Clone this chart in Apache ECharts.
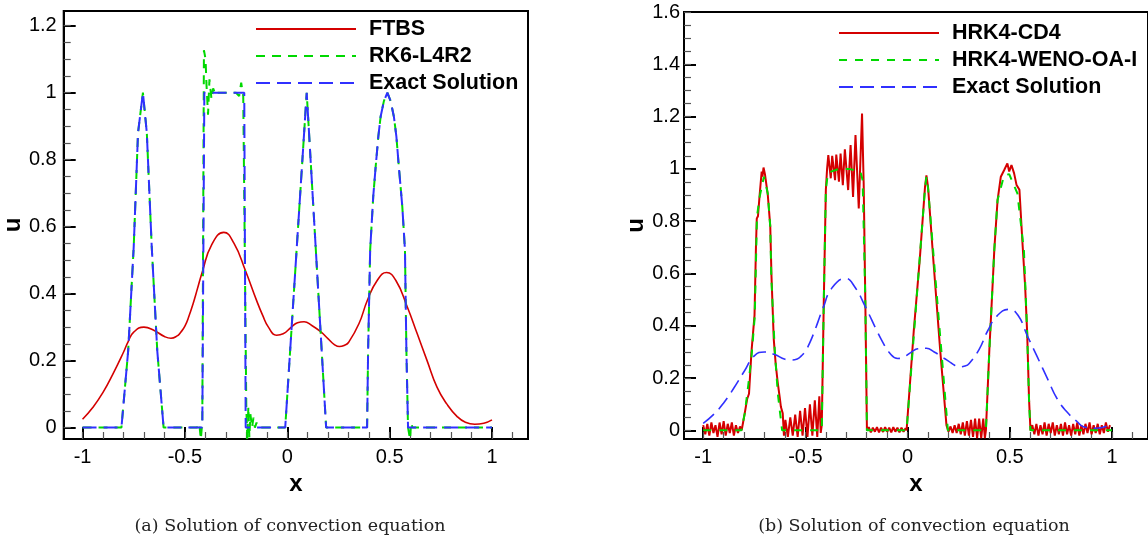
<!DOCTYPE html>
<html>
<head>
<meta charset="utf-8">
<script src="https://cdn.jsdelivr.net/npm/echarts@6/dist/echarts.min.js"></script>
<style>
  html, body { margin: 0; padding: 0; background: #fff; }
  #chart { width: 1148px; height: 538px; }
</style>
</head>
<body>
<div id="chart"></div>
<script>
// tick values
const xTicks = [-1, -0.5, 0, 0.5, 1]
const xMinorTicks = [-1, -0.9, -0.8, -0.7, -0.6, -0.5, -0.4, -0.3, -0.2, -0.1, 0, 0.1, 0.2, 0.3, 0.4, 0.5, 0.6, 0.7, 0.8, 0.9, 1, 1.1]
const yTicksA = [0, 0.2, 0.4, 0.6, 0.8, 1, 1.2]
const yMinorA = [0, 0.05, 0.1, 0.15, 0.2, 0.25, 0.3, 0.35, 0.4, 0.45, 0.5, 0.55, 0.6, 0.65, 0.7, 0.75, 0.8, 0.85, 0.9, 0.95, 1, 1.05, 1.1, 1.15, 1.2]
const yTicksB = [0, 0.2, 0.4, 0.6, 0.8, 1, 1.2, 1.4, 1.6]
const yMinorB = [0, 0.05, 0.1, 0.15, 0.2, 0.25, 0.3, 0.35, 0.4, 0.45, 0.5, 0.55, 0.6, 0.65, 0.7, 0.75, 0.8, 0.85, 0.9, 0.95, 1, 1.05, 1.1, 1.15, 1.2, 1.25, 1.3, 1.35, 1.4, 1.45, 1.5, 1.55, 1.6]

// (a) FTBS
const ftbs = [
  [-1.0, 0.025], [-0.95, 0.06], [-0.9, 0.105], [-0.85, 0.162], [-0.8, 0.225], [-0.777, 0.257],
  [-0.75, 0.285], [-0.7, 0.3], [-0.65, 0.29], [-0.6, 0.272], [-0.568, 0.267], [-0.54, 0.273],
  [-0.52, 0.285], [-0.5, 0.303], [-0.48, 0.333], [-0.46, 0.37], [-0.44, 0.412], [-0.415, 0.465],
  [-0.37, 0.545], [-0.31, 0.583], [-0.26, 0.55], [-0.205, 0.47], [-0.15, 0.38], [-0.12, 0.335],
  [-0.092, 0.3], [-0.052, 0.276], [-0.02, 0.28], [0.02, 0.3], [0.05, 0.313], [0.082, 0.316],
  [0.12, 0.305], [0.166, 0.285], [0.2, 0.265], [0.23, 0.248], [0.255, 0.242], [0.28, 0.246],
  [0.3, 0.255], [0.35, 0.31], [0.392, 0.381], [0.44, 0.44], [0.485, 0.463], [0.53, 0.44],
  [0.586, 0.361], [0.635, 0.28], [0.683, 0.2], [0.732, 0.12], [0.78, 0.07], [0.83, 0.033],
  [0.87, 0.016], [0.916, 0.01], [0.96, 0.013], [1.0, 0.023]
]

// (a) RK6-L4R2
const rk6 = [
  [-1, 0], [-0.81, 0], [-0.777, 0.23], [-0.75, 0.54], [-0.729, 0.88], [-0.705, 1.0], [-0.686, 0.88],
  [-0.662, 0.54], [-0.635, 0.23], [-0.604, 0], [-0.44, 0], [-0.43, 0.013], [-0.422, -0.035],
  [-0.415, 0.02], [-0.407, 1.127], [-0.399, 1.1], [-0.395, 1.03], [-0.387, 0.934], [-0.38, 1.04],
  [-0.37, 0.98], [-0.362, 1.013], [-0.35, 0.993], [-0.34, 1.0], [-0.25, 1.0], [-0.235, 0.99],
  [-0.225, 1.03], [-0.215, 0.99], [-0.207, 0.5], [-0.2, 0.06], [-0.195, -0.035], [-0.19, 0.063],
  [-0.185, -0.03], [-0.18, 0.04], [-0.172, 0.0], [-0.165, 0.03], [-0.158, 0.0], [-0.15, 0.015],
  [-0.14, 0], [-0.01, 0], [0.095, 1.0], [0.19, 0], [0.39, 0], [0.395, 0.23], [0.405, 0.53],
  [0.42, 0.69], [0.432, 0.78], [0.445, 0.87], [0.456, 0.928], [0.472, 0.975], [0.489, 1.0],
  [0.505, 0.975], [0.521, 0.928], [0.533, 0.87], [0.545, 0.78], [0.562, 0.66], [0.575, 0.53],
  [0.582, 0.23], [0.59, 0], [0.6, -0.035], [0.605, 0.015], [0.612, 0], [1, 0]
]

// (a) exact solution
const exactA = [
  [-1, 0], [-0.81, 0], [-0.777, 0.23], [-0.75, 0.54], [-0.729, 0.88], [-0.705, 1.0], [-0.686, 0.88],
  [-0.662, 0.54], [-0.635, 0.23], [-0.604, 0], [-0.415, 0], [-0.405, 1.0], [-0.21, 1.0], [-0.203, 0],
  [-0.01, 0], [0.095, 1.0], [0.19, 0], [0.39, 0], [0.395, 0.23], [0.405, 0.53], [0.42, 0.69],
  [0.432, 0.78], [0.445, 0.87], [0.456, 0.928], [0.472, 0.975], [0.489, 1.0], [0.505, 0.975],
  [0.521, 0.928], [0.533, 0.87], [0.545, 0.78], [0.562, 0.66], [0.575, 0.53], [0.582, 0.23],
  [0.59, 0], [1, 0]
]

// (b) HRK4-CD4
const cd4 = [
  [-1, 0.02], [-0.99, -0.015], [-0.98, 0.025], [-0.97, -0.02], [-0.96, 0.03], [-0.95, -0.01],
  [-0.94, 0.02], [-0.93, -0.025], [-0.92, 0.03], [-0.91, -0.015], [-0.9, 0.035], [-0.89, -0.02],
  [-0.88, 0.025], [-0.87, -0.01], [-0.86, 0.03], [-0.85, -0.02], [-0.84, 0.02], [-0.83, -0.01],
  [-0.82, 0.015], [-0.812, 0.0], [-0.805, 0.03], [-0.797, 0.065], [-0.785, 0.12], [-0.776, 0.14],
  [-0.764, 0.3], [-0.749, 0.44], [-0.742, 0.7], [-0.738, 0.81], [-0.732, 0.82], [-0.724, 0.9],
  [-0.714, 0.99], [-0.71, 0.97], [-0.705, 1.005], [-0.698, 0.98], [-0.684, 0.9], [-0.672, 0.78],
  [-0.666, 0.59], [-0.655, 0.35], [-0.645, 0.25], [-0.635, 0.18], [-0.626, 0.128], [-0.62, 0.09],
  [-0.611, 0.065], [-0.605, -0.02], [-0.598, 0.04], [-0.586, -0.025], [-0.574, 0.05], [-0.562, -0.02],
  [-0.55, 0.06], [-0.538, -0.025], [-0.526, 0.075], [-0.514, -0.02], [-0.502, 0.085], [-0.49, -0.025],
  [-0.478, 0.1], [-0.466, -0.02], [-0.454, 0.115], [-0.442, -0.025], [-0.432, 0.13], [-0.425, -0.01],
  [-0.42, 0.02], [-0.41, 0.5], [-0.4, 0.92], [-0.394, 1.0], [-0.388, 1.053], [-0.376, 0.964],
  [-0.369, 1.05], [-0.355, 0.957], [-0.349, 1.055], [-0.336, 0.951], [-0.328, 1.059], [-0.317, 0.938],
  [-0.307, 1.075], [-0.291, 0.919], [-0.279, 1.091], [-0.267, 0.893], [-0.255, 1.129], [-0.239, 0.849],
  [-0.223, 1.212], [-0.215, 0.945], [-0.207, 0.5], [-0.199, 0.0], [-0.19, 0.012], [-0.18, -0.008],
  [-0.17, 0.01], [-0.16, -0.005], [-0.15, 0.012], [-0.14, -0.008], [-0.13, 0.01], [-0.12, -0.006],
  [-0.11, 0.012], [-0.1, -0.005], [-0.09, 0.01], [-0.08, -0.008], [-0.07, 0.012], [-0.06, -0.005],
  [-0.05, 0.01], [-0.04, -0.008], [-0.03, 0.01], [-0.02, -0.005], [-0.01, 0.008], [-0.005, 0.0],
  [0.03, 0.38], [0.06, 0.66], [0.085, 0.93], [0.092, 0.975], [0.1, 0.93], [0.125, 0.66], [0.16, 0.3],
  [0.19, 0.02], [0.2, -0.005], [0.21, 0.015], [0.22, -0.01], [0.23, 0.02], [0.24, -0.01], [0.25, 0.025],
  [0.26, -0.015], [0.27, 0.03], [0.28, -0.02], [0.29, 0.035], [0.3, -0.02], [0.31, 0.04], [0.32, -0.025],
  [0.33, 0.045], [0.34, -0.03], [0.35, 0.045], [0.36, -0.03], [0.37, 0.045], [0.378, -0.03],
  [0.383, 0.0], [0.4, 0.31], [0.416, 0.56], [0.424, 0.69], [0.44, 0.88], [0.456, 0.97], [0.472, 0.995],
  [0.488, 1.021], [0.497, 0.99], [0.508, 1.015], [0.521, 0.983], [0.533, 0.938], [0.547, 0.92],
  [0.561, 0.728], [0.575, 0.55], [0.585, 0.37], [0.594, 0.12], [0.601, 0.0], [0.61, 0.02],
  [0.62, -0.015], [0.63, 0.025], [0.64, -0.02], [0.65, 0.02], [0.66, -0.015], [0.67, 0.03],
  [0.68, -0.02], [0.69, 0.025], [0.7, -0.01], [0.71, 0.03], [0.72, -0.02], [0.73, 0.02],
  [0.74, -0.015], [0.75, 0.025], [0.76, -0.02], [0.77, 0.03], [0.78, -0.015], [0.79, 0.02],
  [0.8, -0.02], [0.81, 0.025], [0.82, -0.015], [0.83, 0.03], [0.84, -0.02], [0.85, 0.02],
  [0.86, -0.015], [0.87, 0.025], [0.88, -0.01], [0.89, 0.03], [0.9, -0.015], [0.91, 0.02],
  [0.92, -0.01], [0.93, 0.025], [0.94, -0.015], [0.95, 0.02], [0.96, -0.01], [0.97, 0.03],
  [0.98, -0.005], [0.99, 0.02]
]

// (b) HRK4-WENO-OA-I
const weno = [
  [-1, 0], [-0.813, 0], [-0.797, 0.064], [-0.78, 0.17], [-0.764, 0.28], [-0.748, 0.434],
  [-0.737, 0.817], [-0.724, 0.893], [-0.703, 0.97], [-0.684, 0.906], [-0.672, 0.779], [-0.667, 0.587],
  [-0.65, 0.307], [-0.635, 0.141], [-0.614, 0], [-0.42, 0], [-0.41, 0.5], [-0.4, 0.92],
  [-0.39, 0.985], [-0.336, 1.0], [-0.288, 1.0], [-0.231, 0.99], [-0.22, 0.957], [-0.207, 0.5],
  [-0.199, 0], [-0.005, 0], [0.085, 0.925], [0.092, 0.97], [0.1, 0.925], [0.197, 0], [0.383, 0],
  [0.4, 0.307], [0.416, 0.562], [0.424, 0.69], [0.44, 0.881], [0.472, 0.975], [0.497, 0.98],
  [0.537, 0.906], [0.569, 0.689], [0.585, 0.371], [0.594, 0.116], [0.601, 0], [1, 0]
]

// (b) exact solution
const exactB = [
  [-1.0, 0.027], [-0.95, 0.06], [-0.9, 0.105], [-0.85, 0.162], [-0.8, 0.225], [-0.75, 0.285],
  [-0.7, 0.3], [-0.65, 0.29], [-0.6, 0.272], [-0.57, 0.269], [-0.54, 0.273], [-0.52, 0.285],
  [-0.5, 0.303], [-0.48, 0.333], [-0.46, 0.37], [-0.44, 0.412], [-0.415, 0.465], [-0.37, 0.545],
  [-0.304, 0.581], [-0.26, 0.55], [-0.205, 0.47], [-0.15, 0.38], [-0.12, 0.335], [-0.092, 0.3],
  [-0.048, 0.275], [-0.02, 0.28], [0.02, 0.3], [0.05, 0.312], [0.092, 0.314], [0.13, 0.3],
  [0.17, 0.28], [0.2, 0.265], [0.23, 0.249], [0.254, 0.243], [0.28, 0.246], [0.3, 0.255],
  [0.35, 0.31], [0.392, 0.381], [0.44, 0.44], [0.497, 0.463], [0.54, 0.44], [0.586, 0.361],
  [0.635, 0.28], [0.683, 0.2], [0.732, 0.12], [0.78, 0.07], [0.83, 0.033], [0.86, 0.014],
  [0.92, 0.008], [0.973, 0.016]
]

const FONT = 'Liberation Sans, Arial, sans-serif'
const RED = '#d40000'
const GREEN = '#00d800'
const BLUE = '#3030ff'

const majorAxis = (gridIndex, min, max, ticks, extra) => Object.assign({
  type: 'value',
  gridIndex,
  min,
  max,
  splitLine: { show: false },
  axisLine: { show: true, onZero: false, lineStyle: { color: '#000', width: 2 } },
  axisTick: { show: true, inside: true, length: 12, customValues: ticks, lineStyle: { color: '#000', width: 2 } },
  axisLabel: { show: true, customValues: ticks, color: '#000', fontSize: 20, fontFamily: FONT },
  nameLocation: 'middle',
  nameTextStyle: { color: '#000', fontSize: 24, fontWeight: 'bold', fontFamily: FONT }
}, extra)

const minorAxis = (gridIndex, min, max, ticks, extra) => Object.assign({
  type: 'value',
  gridIndex,
  min,
  max,
  splitLine: { show: false },
  axisLine: { show: false, onZero: false },
  axisTick: { show: true, inside: true, length: 7, customValues: ticks, lineStyle: { color: '#555', width: 1.2 } },
  axisLabel: { show: false }
}, extra)

const legendText = { color: '#000', fontSize: 21.5, fontWeight: 'bold', fontFamily: FONT, padding: [0, 0, 0, 8] }

const chart = echarts.init(document.getElementById('chart'))

chart.setOption({
  animation: false,
  backgroundColor: '#fff',
  grid: [
    { left: 60, top: 11, width: 468, height: 428, show: true, borderColor: '#000', borderWidth: 2, backgroundColor: 'transparent' },
    { left: 684, top: 12, width: 468, height: 427, show: true, borderColor: '#000', borderWidth: 2, backgroundColor: 'transparent' }
  ],
  xAxis: [
    majorAxis(0, -1.092, 1.176, xTicks, { position: 'bottom', name: 'x', nameGap: 20, axisLabel: { customValues: xTicks, color: '#000', fontSize: 20, fontFamily: FONT, margin: 8 } }),
    minorAxis(0, -1.092, 1.176, xMinorTicks, { position: 'bottom' }),
    majorAxis(1, -1.094, 1.176, xTicks, { position: 'bottom', name: 'x', nameGap: 20, axisLabel: { customValues: xTicks, color: '#000', fontSize: 20, fontFamily: FONT, margin: 8 } }),
    minorAxis(1, -1.094, 1.176, xMinorTicks, { position: 'bottom' })
  ],
  yAxis: [
    majorAxis(0, -0.034, 1.244, yTicksA, { position: 'left', name: 'u', nameGap: 34, axisLabel: { customValues: yTicksA, color: '#000', fontSize: 20, fontFamily: FONT, margin: 7 } }),
    minorAxis(0, -0.034, 1.244, yMinorA, { position: 'left' }),
    majorAxis(1, -0.033, 1.6, yTicksB, { position: 'left', name: 'u', nameGap: 33, axisLabel: { customValues: yTicksB, color: '#000', fontSize: 20, fontFamily: FONT, margin: 4 } }),
    minorAxis(1, -0.033, 1.6, yMinorB, { position: 'left' })
  ],
  legend: [
    {
      data: ['FTBS', 'RK6-L4R2', 'Exact Solution'],
      orient: 'vertical',
      left: 250,
      top: 13,
      itemWidth: 100,
      itemHeight: 14,
      itemGap: 5,
      selectedMode: false,
      itemStyle: { opacity: 0 },
      textStyle: legendText
    },
    {
      data: ['HRK4-CD4', 'HRK4-WENO-OA-I', 'Exact Solution'],
      orient: 'vertical',
      left: 833,
      top: 17,
      itemWidth: 100,
      itemHeight: 14,
      itemGap: 5,
      selectedMode: false,
      itemStyle: { opacity: 0 },
      textStyle: legendText
    }
  ],
  series: [
    {
      name: 'FTBS', type: 'line', xAxisIndex: 0, yAxisIndex: 0, data: ftbs,
      symbol: 'none', smooth: 0.5, lineStyle: { color: RED, width: 1.6 }, itemStyle: { color: RED }
    },
    {
      name: 'RK6-L4R2', type: 'line', xAxisIndex: 0, yAxisIndex: 0, data: rk6,
      symbol: 'none', lineStyle: { color: GREEN, width: 2, type: [9, 7] }, itemStyle: { color: GREEN }
    },
    {
      name: 'Exact Solution', type: 'line', xAxisIndex: 0, yAxisIndex: 0, data: exactA,
      symbol: 'none', lineStyle: { color: BLUE, width: 2, type: [14, 7] }, itemStyle: { color: BLUE }
    },
    {
      name: 'HRK4-CD4', type: 'line', xAxisIndex: 2, yAxisIndex: 2, data: cd4,
      symbol: 'none', lineStyle: { color: RED, width: 2 }, itemStyle: { color: RED }
    },
    {
      name: 'HRK4-WENO-OA-I', type: 'line', xAxisIndex: 2, yAxisIndex: 2, data: weno,
      symbol: 'none', lineStyle: { color: GREEN, width: 2, type: [8, 8] }, itemStyle: { color: GREEN }
    },
    {
      name: 'Exact Solution', type: 'line', xAxisIndex: 2, yAxisIndex: 2, data: exactB,
      symbol: 'none', smooth: 0.5, lineStyle: { color: BLUE, width: 1.6, type: [14, 7] }, itemStyle: { color: BLUE }
    }
  ],
  graphic: [
    {
      type: 'text', x: 290, y: 526, style: {
        text: '(a) Solution of convection equation',
        fill: '#222', font: '17.5px "DejaVu Serif", serif', textAlign: 'center', textVerticalAlign: 'middle'
      }
    },
    {
      type: 'text', x: 914, y: 526, style: {
        text: '(b) Solution of convection equation',
        fill: '#222', font: '17.5px "DejaVu Serif", serif', textAlign: 'center', textVerticalAlign: 'middle'
      }
    }
  ]
})

window.addEventListener('resize', () => chart.resize())
</script>
</body>
</html>
